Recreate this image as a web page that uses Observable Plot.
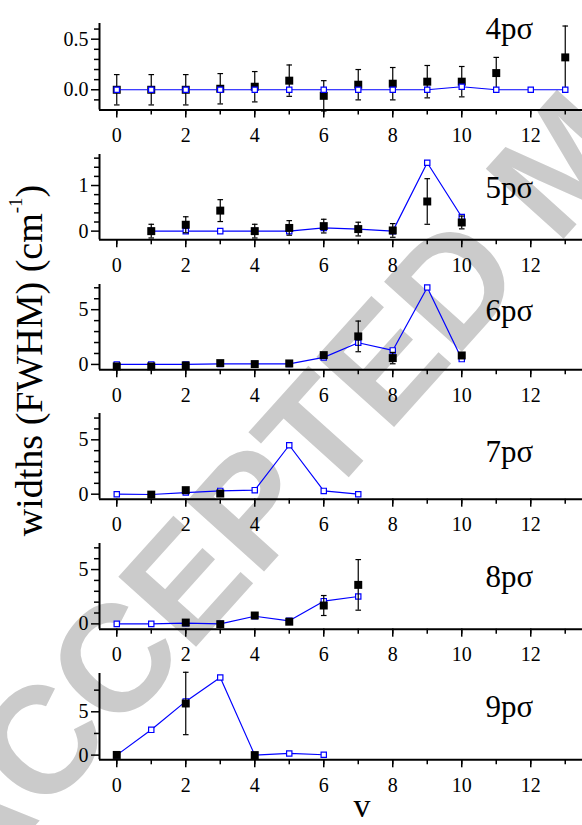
<!DOCTYPE html>
<html>
<head>
<meta charset="utf-8">
<script src="https://cdn.jsdelivr.net/npm/d3@7"></script>
<script src="https://cdn.jsdelivr.net/npm/@observablehq/plot@0.6"></script>
<style>
  html, body { margin: 0; padding: 0; background: white; }
  #wrap { position: relative; width: 582px; height: 825px; overflow: hidden; font-family: 'Liberation Serif', 'Times New Roman', serif; }
  #wrap svg { position: absolute; left: 0; }
  #wrap svg text { font-family: 'Liberation Serif', 'Times New Roman', serif; }
  #wrap svg text.wm { font-family: 'Liberation Sans', Arial, sans-serif; }
</style>
</head>
<body>
<div id="wrap"></div>
<script>
// ---------- data ----------
const panelLabels = ["4pσ", "5pσ", "6pσ", "7pσ", "8pσ", "9pσ"];
const xTicksMajor = [0, 2, 4, 6, 8, 10, 12];
const xTicksMinor = [0, 1, 2, 3, 4, 5, 6, 7, 8, 9, 10, 11, 12, 13];

// 4pσ
const exp4V = [0, 1, 2, 3, 4, 5, 6, 7, 8, 9, 10, 11, 13];
const exp4W = [0.0, 0.0, 0.0, 0.01, 0.03, 0.09, -0.06, 0.05, 0.06, 0.08, 0.08, 0.165, 0.32];
const exp4E = [0.15, 0.15, 0.15, 0.15, 0.15, 0.155, 0.15, 0.15, 0.16, 0.16, 0.15, 0.155, 0.31];
const calc4V = [0, 1, 2, 3, 4, 5, 6, 7, 8, 9, 10, 11, 12, 13];
const calc4W = [0, 0, 0, 0, 0, 0, 0, 0, 0, 0, 0.03, 0, 0, 0];

// 5pσ
const exp5V = [1, 2, 3, 4, 5, 6, 7, 8, 9, 10];
const exp5W = [0.0, 0.14, 0.45, 0.0, 0.07, 0.11, 0.045, 0.015, 0.65, 0.19];
const exp5E = [0.15, 0.175, 0.24, 0.15, 0.16, 0.15, 0.15, 0.15, 0.5, 0.14];
const calc5V = [1, 2, 3, 4, 5, 6, 7, 8, 9, 10];
const calc5W = [0, 0, 0, 0, 0, 0.07, 0.045, 0.0, 1.5, 0.31];

// 6pσ
const exp6V = [0, 1, 2, 3, 4, 5, 6, 7, 8, 10];
const exp6W = [-0.18, -0.18, -0.09, 0.12, 0.03, 0.09, 0.85, 2.56, 0.58, 0.82];
const exp6E = [0, 0, 0, 0, 0, 0, 0.2, 1.4, 0.52, 0.2];
const calc6V = [0, 1, 2, 3, 4, 5, 6, 7, 8, 9, 10];
const calc6W = [0, 0, 0, 0.05, 0.05, 0.05, 0.64, 1.98, 1.28, 7.02, 0.49];

// 7pσ
const exp7V = [1, 2, 3];
const exp7W = [-0.04, 0.37, 0.06];
const exp7E = [0, 0, 0];
const calc7V = [0, 1, 2, 3, 4, 5, 6, 7];
const calc7W = [0, -0.03, 0.15, 0.3, 0.37, 4.5, 0.3, 0.0];

// 8pσ
const exp8V = [2, 3, 4, 5, 6, 7];
const exp8W = [0.12, -0.03, 0.77, 0.2, 1.69, 3.59];
const exp8E = [0, 0, 0, 0, 0.92, 2.33];
const calc8V = [0, 1, 2, 3, 4, 5, 6, 7];
const calc8W = [0, 0, 0.06, 0, 0.7, 0.28, 2.09, 2.52];

// 9pσ
const exp9V = [0, 2, 4];
const exp9W = [0.02, 5.96, 0.0];
const exp9E = [0, 3.6, 0];
const calc9V = [0, 1, 2, 3, 4, 5, 6];
const calc9W = [0, 2.92, 6.2, 8.96, 0, 0.19, 0.04];

// y ticks per panel
const yMajor4 = [0, 0.5], yMinor4 = [-0.1, 0.1, 0.2, 0.3, 0.4, 0.6];
const yMajor5 = [0, 1], yMinor5 = [0.2, 0.4, 0.6, 0.8, 1.2, 1.4, 1.6];
const yMajorB = [0, 5], yMinorB = [1, 2, 3, 4, 6, 7];
const yMajor9 = [0, 5], yMinor9 = [2.5, 7.5];

const yTitle = "widths (FWHM) (cm";
const yTitleSup = "-1";
const xTitle = "v";
const watermark = "ACCEPTED MANUSCRIPT";

// ---------- layout ----------
const SERIF = "'Liberation Serif', 'Times New Roman', serif";
const BLUE = "#0000ff";
const panels = [
  {label: panelLabels[0], eV: exp4V, eW: exp4W, eE: exp4E, cV: calc4V, cW: calc4W, dom: [-0.2, 0.655], maj: yMajor4, min: yMinor4, fmt: d3.format(".1f"), top: 23.3, bottom: 109.8, ldy: 15, blueOnTop: true},
  {label: panelLabels[1], eV: exp5V, eW: exp5W, eE: exp5E, cV: calc5V, cW: calc5W, dom: [-0.19, 1.68], maj: yMajor5, min: yMinor5, fmt: d3.format("d"), top: 154, bottom: 239.3, ldy: 44},
  {label: panelLabels[2], eV: exp6V, eW: exp6W, eE: exp6E, cV: calc6V, cW: calc6W, dom: [-0.49, 7.3], maj: yMajorB, min: yMinorB, fmt: d3.format("d"), top: 284, bottom: 369.3, ldy: 36.7},
  {label: panelLabels[3], eV: exp7V, eW: exp7W, eE: exp7E, cV: calc7V, cW: calc7W, dom: [-0.46, 7.42], maj: yMajorB, min: yMinorB, fmt: d3.format("d"), top: 413.3, bottom: 499, ldy: 48.4},
  {label: panelLabels[4], eV: exp8V, eW: exp8W, eE: exp8E, cV: calc8V, cW: calc8W, dom: [-0.49, 7.4], maj: yMajorB, min: yMinorB, fmt: d3.format("d"), top: 543.3, bottom: 629, ldy: 43.4},
  {label: panelLabels[5], eV: exp9V, eW: exp9W, eE: exp9E, cV: calc9V, cW: calc9W, dom: [-0.54, 9.42], maj: yMajor9, min: yMinor9, fmt: d3.format("d"), top: 672.7, bottom: 759, ldy: 44}
];

const wrap = document.getElementById("wrap");
const NS = "http://www.w3.org/2000/svg";

// watermark (behind the chart)
const wm = document.createElementNS(NS, "svg");
wm.setAttribute("width", 582); wm.setAttribute("height", 825);
wm.style.top = "0px";
wm.innerHTML = `<text class="wm" transform="translate(-31,899) rotate(-48)" font-weight="bold" font-size="152" fill="#cbcbcb">${watermark}</text>`;
wrap.appendChild(wm);

const cap = { draw(ctx, size) { const r = Math.sqrt(size / Math.PI); ctx.moveTo(-r, 0); ctx.lineTo(r, 0); } };

const MT = 10, MB = 42;
for (const p of panels) {
  const exp = p.eV.map((v, i) => ({v, w: p.eW[i], e: p.eE[i]}));
  const calc = p.cV.map((v, i) => ({v, w: p.cW[i]}));
  const errs = exp.filter(d => d.e > 0);
  const blue = [
    Plot.line(calc, {x: "v", y: "w", stroke: BLUE, strokeWidth: 1.2}),
    Plot.dot(calc, {x: "v", y: "w", symbol: "square", r: 3, stroke: BLUE, strokeWidth: 1.2, fill: "white"})
  ];
  const black = [
    Plot.ruleX(errs, {x: "v", y1: d => d.w - d.e, y2: d => d.w + d.e, stroke: "black", strokeWidth: 1.2}),
    Plot.dot(errs, {x: "v", y: d => d.w + d.e, symbol: cap, r: 2.8, stroke: "black", strokeWidth: 1.2, fill: "none"}),
    Plot.dot(errs, {x: "v", y: d => d.w - d.e, symbol: cap, r: 2.8, stroke: "black", strokeWidth: 1.2, fill: "none"}),
    Plot.dot(exp, {x: "v", y: "w", symbol: "square", r: 4.5, fill: "black", stroke: "none"})
  ];
  const H = MT + (p.bottom - p.top) + MB;
  const chart = Plot.plot({
    width: 582, height: H,
    marginLeft: 99, marginRight: 0, marginTop: MT, marginBottom: MB,
    x: {domain: [-0.5, 13.5]},
    y: {domain: p.dom},
    style: {background: "transparent", fontSize: "20px", fontFamily: SERIF, color: "black", overflow: "visible"},
    marks: [
      Plot.axisX({ticks: xTicksMinor, tickSize: 5, tickFormat: () => "", strokeWidth: 1.5, label: null}),
      Plot.axisX({ticks: xTicksMajor, tickSize: 8, tickPadding: 10, strokeWidth: 1.5, label: null, tickFormat: d3.format("d"), fontFamily: SERIF, fontSize: 20}),
      Plot.axisY({ticks: p.min, tickSize: 5, tickFormat: () => "", strokeWidth: 1.5, label: null}),
      Plot.axisY({ticks: p.maj, tickSize: 8, tickPadding: 3, strokeWidth: 1.5, label: null, tickFormat: p.fmt, fontFamily: SERIF, fontSize: 20}),
      Plot.ruleX([-0.5], {stroke: "black", strokeWidth: 2}),
      Plot.ruleY([p.dom[0]], {stroke: "black", strokeWidth: 2}),
      ...(p.blueOnTop ? [...black, ...blue] : [...blue, ...black]),
      Plot.text([p.label], {text: d => d, frameAnchor: "top-left", dx: 386, dy: p.ldy, lineAnchor: "bottom", textAnchor: "start", fontSize: 31, fontFamily: SERIF, fill: "black"})
    ]
  });
  chart.style.position = "absolute";
  chart.style.top = (p.top - MT) + "px";
  chart.style.left = "0px";
  wrap.appendChild(chart);
}

// axis titles overlay
const ov = document.createElementNS(NS, "svg");
ov.setAttribute("width", 582); ov.setAttribute("height", 825);
ov.style.top = "0px";
ov.style.pointerEvents = "none";
ov.innerHTML = `
  <text transform="translate(42,360.5) rotate(-90)" text-anchor="middle" font-size="38" fill="black">${yTitle}<tspan dy="-20" font-size="19">${yTitleSup}</tspan><tspan dy="20">)</tspan></text>
  <text x="362" y="817" text-anchor="middle" font-size="34" fill="black">${xTitle}</text>`;
wrap.appendChild(ov);
</script>
</body>
</html>
